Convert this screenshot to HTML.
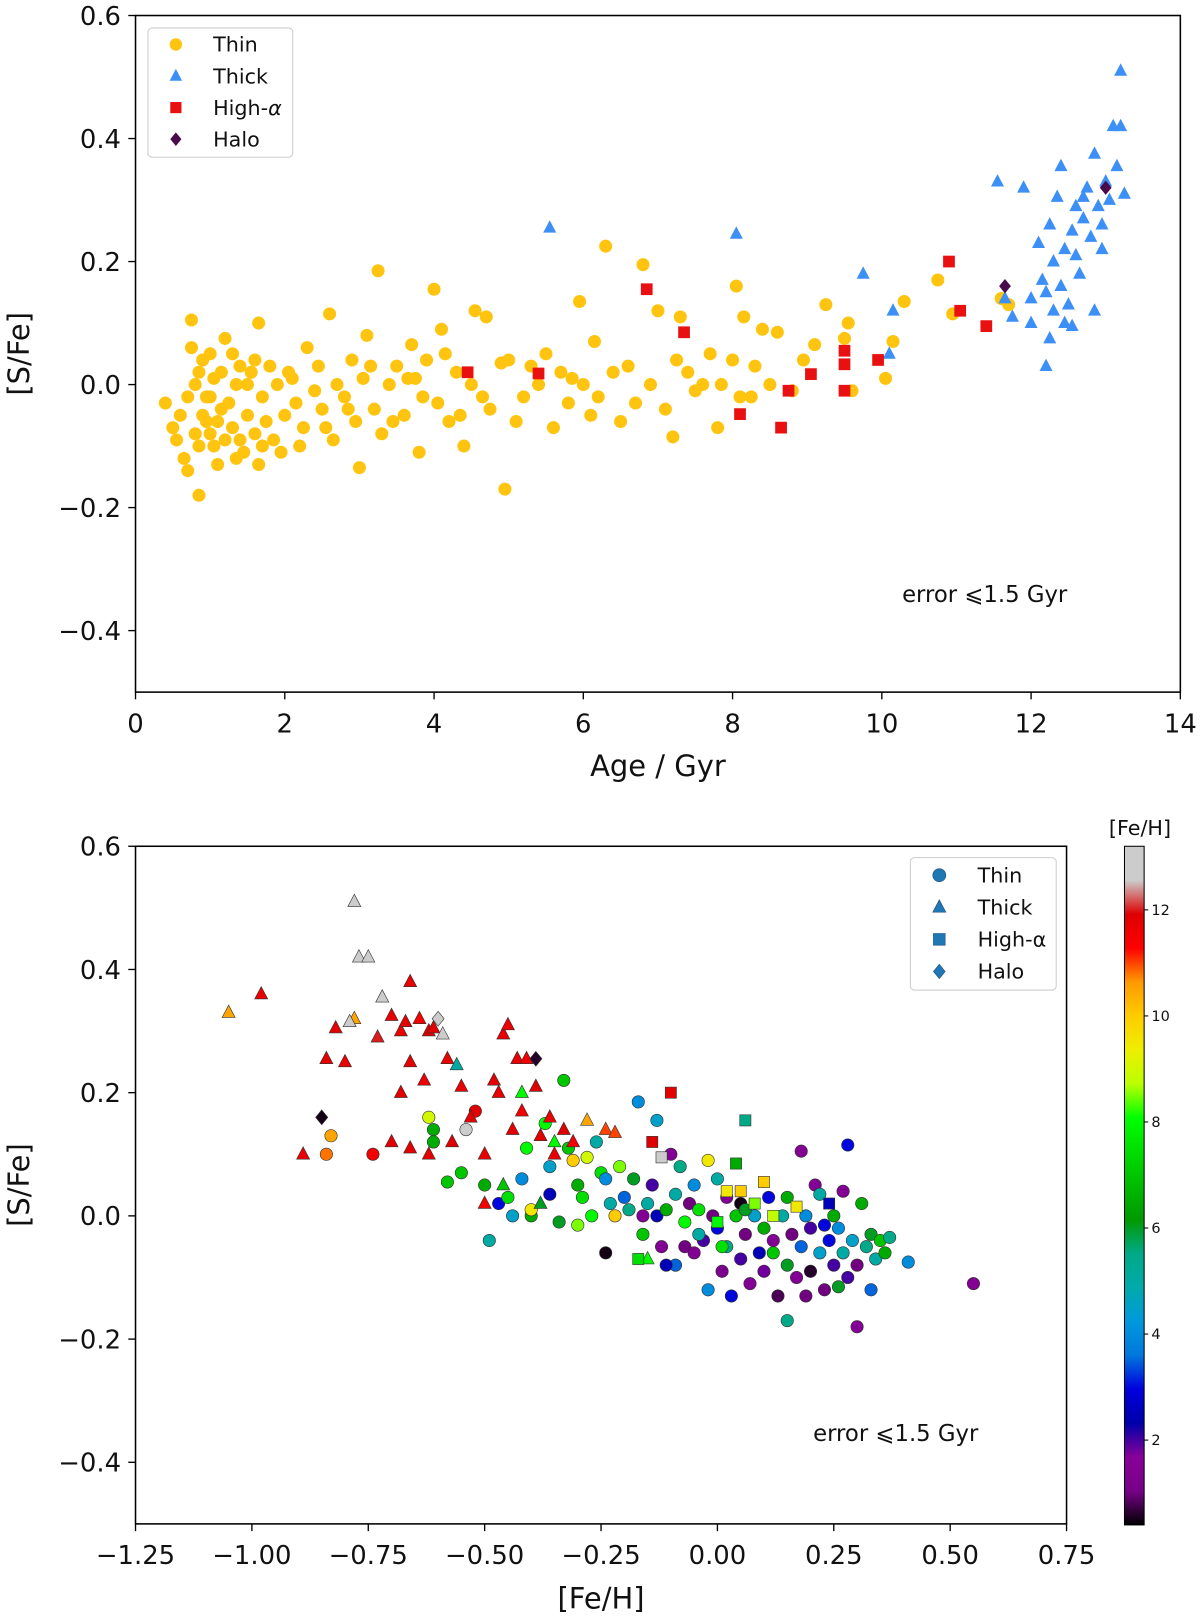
<!DOCTYPE html>
<html><head><meta charset="utf-8"><style>
body{margin:0;background:#fff;}
svg text{font-family:"DejaVu Sans","Liberation Sans",sans-serif;fill:#111;}
</style></head><body>
<svg id="fig" width="1200" height="1617" viewBox="0 0 1160 1563" preserveAspectRatio="none" xmlns="http://www.w3.org/2000/svg">
<defs>
<linearGradient id="cbgrad" x1="0" y1="1" x2="0" y2="0"></linearGradient>
</defs>
</svg>
<script>
// ---------- Top panel data: [age, S/Fe]
const thinTop=[[0.4,-0.03],[0.5,-0.07],[0.6,-0.05],[0.65,-0.12],[0.7,-0.02],[0.75,0.06],[0.75,0.105],[0.8,-0.08],[0.8,0.0],[0.85,-0.18],[0.85,-0.1],[0.9,-0.05],[0.9,0.04],[0.95,-0.02],[1.0,-0.08],[1.0,0.05],[1.05,0.01],[1.1,-0.06],[1.1,-0.13],[1.15,0.02],[1.2,-0.09],[1.2,0.075],[1.25,-0.03],[1.3,-0.07],[1.35,0.0],[1.4,0.03],[1.45,-0.11],[1.5,-0.05],[1.55,0.02],[1.6,-0.08],[1.65,0.1],[1.65,-0.13],[1.7,-0.02],[1.8,0.03],[1.85,-0.09],[1.9,0.0],[2.0,-0.05],[2.05,0.02],[2.15,-0.03],[2.25,-0.07],[2.3,0.06],[2.4,-0.01],[2.5,-0.04],[2.6,0.115],[2.65,-0.09],[2.7,0.0],[2.8,-0.02],[2.9,0.04],[2.95,-0.06],[3.0,-0.135],[3.05,0.01],[3.1,0.08],[3.2,-0.04],[3.25,0.185],[3.3,-0.08],[3.4,0.0],[3.5,0.03],[3.6,-0.05],[3.7,0.065],[3.75,0.01],[3.8,-0.11],[3.9,0.04],[4.0,0.155],[4.05,-0.03],[4.1,0.09],[4.2,-0.06],[4.3,0.02],[4.4,-0.1],[4.5,0.0],[4.55,0.12],[4.7,0.11],[4.75,-0.04],[4.9,0.035],[4.95,-0.17],[5.0,0.04],[5.2,-0.02],[5.4,0.0],[5.5,0.05],[5.6,-0.07],[5.7,0.02],[5.8,-0.03],[5.95,0.135],[6.0,0.0],[6.1,-0.05],[6.15,0.07],[6.3,0.225],[6.4,0.02],[6.5,-0.06],[6.6,0.03],[6.8,0.195],[6.9,0.0],[7.0,0.12],[7.1,-0.04],[7.2,-0.085],[7.3,0.11],[7.4,0.02],[7.5,-0.01],[7.6,0.0],[7.7,0.05],[7.8,-0.07],[8.0,0.04],[8.05,0.16],[8.1,-0.02],[8.15,0.11],[8.3,0.03],[8.4,0.09],[8.5,0.0],[8.6,0.085],[8.8,-0.01],[8.95,0.04],[9.1,0.065],[9.25,0.13],[9.5,0.075],[9.55,0.1],[9.6,-0.01],[10.05,0.01],[10.15,0.07],[10.3,0.135],[10.75,0.17],[10.95,0.115],[11.6,0.14],[11.7,0.13],
[0.55,-0.09],[0.7,-0.14],[0.95,-0.06],[1.05,-0.1],[1.15,-0.04],[1.3,0.05],[1.4,-0.09],[1.5,0.0],[1.6,0.04],[1.75,-0.06],[1.95,-0.11],[2.1,0.01],[2.2,-0.1],[2.45,0.03],[2.55,-0.07],[2.85,-0.04],[3.15,0.03],[3.45,-0.06],[3.65,0.01],[3.85,-0.02],[4.15,0.05],[4.35,-0.05],[4.65,-0.02],[5.1,-0.06],[5.3,0.03],[5.85,0.01],[6.2,-0.02],[6.7,-0.03],[7.25,0.04],[7.85,0.0],[8.25,-0.02],[1.0,-0.02],[0.85,0.02],[1.35,-0.12],[1.7,-0.1]];
const thickTop=[[5.55,0.255],[8.05,0.245],[9.75,0.18],[10.1,0.05],[10.15,0.12],[11.55,0.33],[11.65,0.14],[11.75,0.11],[11.9,0.32],[12.0,0.1],[12.1,0.23],[12.15,0.17],[12.2,0.03],[12.25,0.26],[12.3,0.2],[12.35,0.305],[12.4,0.355],[12.45,0.22],[12.5,0.13],[12.55,0.25],[12.6,0.29],[12.65,0.18],[12.7,0.27],[12.75,0.32],[12.8,0.24],[12.85,0.375],[12.9,0.29],[12.95,0.22],[13.0,0.33],[13.05,0.3],[13.1,0.42],[13.15,0.355],[13.2,0.42],[13.25,0.31],[13.2,0.51],[12.85,0.12],[12.3,0.12],[12.2,0.15],[12.45,0.1],[12.6,0.21],[12.0,0.14],[12.7,0.305],[12.4,0.16],[12.25,0.075],[12.55,0.095],[12.95,0.26]];
const highTop=[[4.45,0.02],[5.4,0.018],[6.85,0.155],[7.35,0.085],[8.1,-0.048],[8.65,-0.07],[8.75,-0.01],[9.05,0.017],[9.5,0.033],[9.5,0.055],[9.5,-0.01],[9.95,0.04],[10.9,0.2],[11.05,0.12],[11.4,0.095]];
const haloTop=[[11.65,0.16],[13.0,0.32]];
const topXTicks=[0,2,4,6,8,10,12,14];
const yTicks=[0.6,0.4,0.2,0.0,-0.2,-0.4];
// ---------- Bottom panel data: [Fe/H, S/Fe, age]
const thinBot=[[-0.83,0.13,10.5],[-0.84,0.10,10.8],[-0.74,0.1,11.5],[-0.62,0.16,9.0],[-0.61,0.14,6.5],[-0.61,0.12,6.5],[-0.58,0.055,7.0],[-0.55,0.07,7.0],[-0.54,0.14,12.9],[-0.52,0.17,11.8],[-0.49,-0.04,5.0],[-0.5,0.05,6.5],[-0.47,0.02,3.0],[-0.45,0.03,7.5],[-0.44,0.0,4.5],[-0.42,0.06,4.0],[-0.41,0.11,8.0],[-0.40,0.0,6.5],[-0.40,0.01,9.5],[-0.37,0.15,8.0],[-0.36,0.08,4.5],[-0.36,0.035,2.5],[-0.34,-0.01,6.0],[-0.33,0.22,7.0],[-0.32,0.11,7.0],[-0.31,0.09,10.0],[-0.30,-0.015,8.5],[-0.30,0.05,6.5],[-0.29,0.03,7.5],[-0.28,0.095,9.0],[-0.27,0.0,8.0],[-0.26,0.12,5.0],[-0.25,0.07,7.5],[-0.24,0.06,4.0],[-0.24,-0.06,0.5],[-0.23,0.02,5.0],[-0.22,0.0,10.0],[-0.21,0.08,8.5],[-0.20,0.03,3.5],[-0.19,0.01,5.5],[-0.18,0.06,6.0],[-0.17,0.185,4.0],[-0.16,0.0,1.5],[-0.16,-0.03,7.0],[-0.15,0.02,5.0],[-0.14,0.05,2.0],[-0.13,0.155,4.5],[-0.13,0.0,2.5],[-0.12,-0.05,1.5],[-0.11,0.01,6.5],[-0.10,0.1,1.5],[-0.09,-0.08,3.5],[-0.09,0.035,5.0],[-0.08,0.08,5.5],[-0.07,-0.01,8.0],[-0.06,0.02,1.0],[-0.05,-0.06,1.5],[-0.05,0.05,4.0],[-0.04,0.01,7.5],[-0.03,-0.04,2.0],[-0.02,0.09,9.5],[-0.02,-0.12,4.0],[-0.01,0.0,1.0],[0.0,-0.02,3.0],[0.0,0.06,5.0],[0.01,-0.09,1.2],[0.02,0.03,1.5],[0.02,-0.05,5.5],[0.03,-0.13,3.0],[0.04,0.0,7.0],[0.05,-0.07,2.0],[0.05,0.02,0.5],[0.06,-0.03,1.0],[0.07,-0.11,1.5],[0.08,0.0,4.5],[0.09,-0.06,2.5],[0.10,-0.02,6.5],[0.10,-0.09,1.8],[0.11,0.03,3.0],[0.12,-0.04,1.5],[0.13,-0.13,0.8],[0.14,0.0,5.0],[0.15,-0.08,6.0],[0.15,-0.17,5.5],[0.16,-0.03,1.0],[0.17,-0.1,1.5],[0.18,0.105,1.5],[0.18,-0.05,3.5],[0.19,-0.13,1.0],[0.20,-0.02,2.0],[0.20,-0.09,0.6],[0.21,0.05,1.5],[0.22,-0.06,4.5],[0.22,0.035,5.0],[0.23,-0.12,1.0],[0.24,-0.04,3.0],[0.25,-0.08,2.0],[0.25,0.0,6.5],[0.26,-0.02,4.0],[0.27,0.04,1.5],[0.27,-0.06,5.0],[0.28,0.115,3.0],[0.28,-0.1,2.0],[0.29,-0.04,4.5],[0.30,-0.18,1.5],[0.30,-0.08,1.0],[0.31,0.02,6.5],[0.32,-0.05,5.5],[0.33,-0.12,3.5],[0.33,-0.03,6.0],[0.34,-0.07,5.0],[0.35,-0.04,7.0],[0.36,-0.06,6.5],[0.37,-0.035,5.5],[0.41,-0.075,4.0],[0.55,-0.11,1.5],[0.12,-0.06,7.0],[0.06,0.01,6.0],[-0.04,-0.03,5.0],[0.01,-0.05,7.5],[0.15,0.03,6.5],[0.19,0.0,4.0],[0.23,-0.015,3.0],[-0.11,-0.08,2.5],[-0.07,-0.05,1.0],[0.26,-0.115,6.0]];
const thickBot=[[-1.05,0.33,10.5],[-0.98,0.36,11.7],[-0.89,0.1,11.7],[-0.84,0.255,11.8],[-0.82,0.305,11.8],[-0.80,0.25,11.7],[-0.78,0.51,13.2],[-0.77,0.42,13.1],[-0.78,0.32,10.5],[-0.79,0.315,13.0],[-0.75,0.42,12.9],[-0.73,0.29,12.0],[-0.72,0.355,12.9],[-0.70,0.325,11.7],[-0.68,0.3,11.7],[-0.67,0.315,11.8],[-0.66,0.38,11.7],[-0.66,0.25,11.8],[-0.64,0.32,11.5],[-0.63,0.22,11.6],[-0.62,0.3,11.9],[-0.61,0.305,11.8],[-0.59,0.295,12.8],[-0.58,0.255,11.7],[-0.56,0.245,5.0],[-0.55,0.21,11.7],[-0.53,0.16,11.8],[-0.48,0.22,11.8],[-0.46,0.295,11.7],[-0.45,0.31,11.6],[-0.47,0.2,11.7],[-0.43,0.255,11.7],[-0.41,0.255,11.5],[-0.42,0.17,11.5],[-0.44,0.14,11.8],[-0.39,0.21,11.9],[-0.38,0.13,11.8],[-0.36,0.16,11.7],[-0.35,0.1,11.7],[-0.33,0.14,11.9],[-0.31,0.12,11.5],[-0.28,0.155,10.5],[-0.24,0.14,11.0],[-0.22,0.135,11.0],[-0.68,0.2,11.8],[-0.70,0.12,11.8],[-0.62,0.1,11.8],[-0.66,0.11,11.8],[-0.57,0.12,11.9],[-0.38,0.02,6.0],[-0.50,0.02,11.5],[-0.46,0.05,7.0],[-0.15,-0.07,8.0],[-0.50,0.1,11.7],[-0.42,0.2,8.0],[-0.35,0.12,8.0]];
const highBot=[[-0.10,0.2,11.8],[-0.14,0.12,11.9],[0.06,0.155,5.5],[-0.12,0.095,13.0],[0.04,0.085,6.5],[0.10,0.055,10.0],[0.02,0.04,9.5],[0.17,0.015,9.5],[0.0,-0.01,8.0],[0.05,0.04,10.0],[0.24,0.02,2.5],[0.08,0.02,8.5],[-0.17,-0.07,7.5],[0.12,0.0,8.8]];
const haloBot=[[-0.85,0.16,0.5],[-0.6,0.32,13.0],[-0.39,0.255,0.6]];
const botXTicks=[-1.25,-1.00,-0.75,-0.50,-0.25,0.00,0.25,0.50,0.75];
const cbTicks=[2,4,6,8,10,12];

const NS="http://www.w3.org/2000/svg";
const svg=document.getElementById('fig');
function mk(tag,attrs,parent){const e=document.createElementNS(NS,tag);for(const k in attrs)e.setAttribute(k,attrs[k]);(parent||svg).appendChild(e);return e;}
function txt(s,attrs,parent){const e=mk('text',attrs,parent);e.textContent=s;return e;}
const fmtM=v=>(v<0?'\u2212':'')+Math.abs(v).toFixed(1);
const fmt2=v=>(v<0?'\u2212':'')+Math.abs(v).toFixed(2);

const T={x0:131,x1:1141,y0:15,y1:669,xmin:0,xmax:14,ymin:-0.5,ymax:0.6};
const B={x0:131,x1:1031,y0:818,y1:1473,xmin:-1.25,xmax:0.75,ymin:-0.5,ymax:0.6};
const sx=(A,v)=>A.x0+(v-A.xmin)/(A.xmax-A.xmin)*(A.x1-A.x0);
const sy=(A,v)=>A.y1-(v-A.ymin)/(A.ymax-A.ymin)*(A.y1-A.y0);

// colormap (nipy_spectral)
const cmR=[0,0.4667,0.5333,0,0,0,0,0,0,0,0,0,0,0.7333,0.9333,1,1,1,0.8667,0.8,0.8];
const cmG=[0,0,0,0,0,0.4667,0.6,0.6667,0.6667,0.6,0.7333,0.8667,1,1,0.9333,0.8,0.6,0,0,0.8,0.8];
const cmB=[0,0.5333,0.6,0.6667,0.8667,0.8667,0.8667,0.6667,0.5333,0,0,0,0,0,0,0,0,0,0,0.8,0.8];
const AGEMIN=0.4,AGEMAX=13.2;
function cmap(t){t=Math.max(0,Math.min(1,t));const f=t*20,i=Math.min(19,Math.floor(f)),r=f-i;
 const c=a=>Math.round(255*(a[i]+(a[i+1]-a[i])*r));return `rgb(${c(cmR)},${c(cmG)},${c(cmB)})`;}
const ageCol=a=>cmap((a-AGEMIN)/(AGEMAX-AGEMIN));

function marker(shape,x,y,fill,stroke,g,s){
 s=s||6.5;let e;const sw=stroke==='none'?0:0.6;
 if(shape==='o') e=mk('circle',{cx:x,cy:y,r:s,fill:fill,stroke:stroke,'stroke-width':sw},g);
 else if(shape==='^') e=mk('polygon',{points:`${x},${y-s*1.15} ${x-s},${y+s*0.75} ${x+s},${y+s*0.75}`,fill:fill,stroke:stroke,'stroke-width':sw},g);
 else if(shape==='s') e=mk('rect',{x:x-s*0.9,y:y-s*0.9,width:s*1.8,height:s*1.8,fill:fill,stroke:stroke,'stroke-width':sw},g);
 else e=mk('polygon',{points:`${x},${y-s*1.1} ${x+s*0.9},${y} ${x},${y+s*1.1} ${x-s*0.9},${y}`,fill:fill,stroke:stroke,'stroke-width':sw},g);
 return e;}

function axes(A,xt,xfmt,name){
 const g=mk('g',{});
 
 
 yTicks.forEach(v=>{const y=sy(A,v);mk('line',{x1:A.x0-7,x2:A.x0,y1:y,y2:y,stroke:'#000','stroke-width':1.3},g);
  const t=txt(fmtM(v),{x:A.x0-14,y:y+9,'text-anchor':'end','font-size':25},g);
  
  });
 xt.forEach(v=>{const x=sx(A,v);mk('line',{x1:x,x2:x,y1:A.y1,y2:A.y1+7,stroke:'#000','stroke-width':1.3},g);
  const t=txt(xfmt(v),{x:x,y:A.y1+39,'text-anchor':'middle','font-size':25},g);
  
  });
 return g;}

// ---------- TOP PANEL
axes(T,topXTicks,v=>String(v),'top');
const gTop=mk('g',{});


thinTop.forEach(d=>{const m=marker('o',sx(T,d[0]),sy(T,d[1]),'#ffc40f','none',gTop,6.3);
 
 });
thickTop.forEach(d=>{const m=marker('^',sx(T,d[0]),sy(T,d[1]),'#3c8ff5','none',gTop,6.3);
 
 });
highTop.forEach(d=>{const m=marker('s',sx(T,d[0]),sy(T,d[1]),'#e81010','none',gTop,6.3);
 
 });
haloTop.forEach(d=>{const m=marker('d',sx(T,d[0]),sy(T,d[1]),'#4b0a4b','none',gTop,6.3);
 
 });
const tf=mk('rect',{x:T.x0,y:T.y0,width:T.x1-T.x0,height:T.y1-T.y0,fill:'none',stroke:'#000','stroke-width':1.5});


let t1=txt('Age / Gyr',{x:(T.x0+T.x1)/2,y:750,'text-anchor':'middle','font-size':28});


let t2=txt('[S/Fe]',{x:0,y:0,'text-anchor':'middle','font-size':28,transform:`translate(28,${(T.y0+T.y1)/2}) rotate(-90)`});


let t3=txt('error \u2A7D1.5 Gyr',{x:872,y:582,'font-size':22});


const lgT=mk('g',{});


mk('rect',{x:143,y:27,width:140,height:125,rx:4,fill:'#fff','fill-opacity':0.85,stroke:'#ccc'},lgT);
[['o','#ffc40f','Thin'],['^','#3c8ff5','Thick'],['s','#e81010','High-'],['d','#4b0a4b','Halo']].forEach((e,i)=>{
 const y=43+i*30.5;
 const gi=mk('g',{},lgT);
 
 
 marker(e[0],170,y,e[1],'none',gi,6);
 const t=txt(e[2],{x:206,y:y+7,'font-size':20},gi);
 if(e[2]==='High-'){const ts=document.createElementNS(NS,'tspan');ts.setAttribute('font-style','italic');ts.textContent='\u03B1';t.appendChild(ts);}
});

// ---------- BOTTOM PANEL
axes(B,botXTicks,fmt2,'bottom');
const gBot=mk('g',{});


thinBot.forEach(d=>{const m=marker('o',sx(B,d[0]),sy(B,d[1]),ageCol(d[2]),'#333',gBot,6);
 
 });
thickBot.forEach(d=>{const m=marker('^',sx(B,d[0]),sy(B,d[1]),ageCol(d[2]),'#333',gBot,6.3);
 
 });
highBot.forEach(d=>{const m=marker('s',sx(B,d[0]),sy(B,d[1]),ageCol(d[2]),'#333',gBot,6);
 
 });
haloBot.forEach(d=>{const m=marker('d',sx(B,d[0]),sy(B,d[1]),ageCol(d[2]),'#333',gBot,6.5);
 
 });
const bf=mk('rect',{x:B.x0,y:B.y0,width:B.x1-B.x0,height:B.y1-B.y0,fill:'none',stroke:'#000','stroke-width':1.5});


let b1=txt('[Fe/H]',{x:(B.x0+B.x1)/2,y:1555,'text-anchor':'middle','font-size':28});


let b2=txt('[S/Fe]',{x:0,y:0,'text-anchor':'middle','font-size':28,transform:`translate(28,${(B.y0+B.y1)/2}) rotate(-90)`});


let b3=txt('error \u2A7D1.5 Gyr',{x:786,y:1393,'font-size':22});


const lgB=mk('g',{});


mk('rect',{x:880,y:829,width:141,height:128,rx:4,fill:'#fff','fill-opacity':0.85,stroke:'#ccc'},lgB);
[['o','Thin'],['^','Thick'],['s','High-\u03B1'],['d','Halo']].forEach((e,i)=>{
 const y=846+i*31;
 const gi=mk('g',{},lgB);
 
 
 marker(e[0],908,y,'#1f77b4','#1f4f7f',gi,6.3);
 txt(e[1],{x:945,y:y+7,'font-size':20},gi);
});
const grad=document.getElementById('cbgrad');
for(let i=0;i<=20;i++){mk('stop',{offset:(i*5)+'%','stop-color':cmap(i/20)},grad);}
const cb=mk('g',{});


const cbx=1087,cbw=19,cby0=818,cby1=1474;
mk('rect',{x:cbx,y:cby0,width:cbw,height:cby1-cby0,fill:'url(#cbgrad)',stroke:'#000','stroke-width':1},cb);
cbTicks.forEach(v=>{const y=cby1-(v-AGEMIN)/(AGEMAX-AGEMIN)*(cby1-cby0);
 mk('line',{x1:cbx+cbw,x2:cbx+cbw+4,y1:y,y2:y,stroke:'#000'},cb);
 const t=txt(String(v),{x:cbx+cbw+7,y:y+5,'font-size':14},cb);
 
 });
let cbt=txt('[Fe/H]',{x:1102,y:807,'text-anchor':'middle','font-size':20},cb);


</script>
</body></html>
